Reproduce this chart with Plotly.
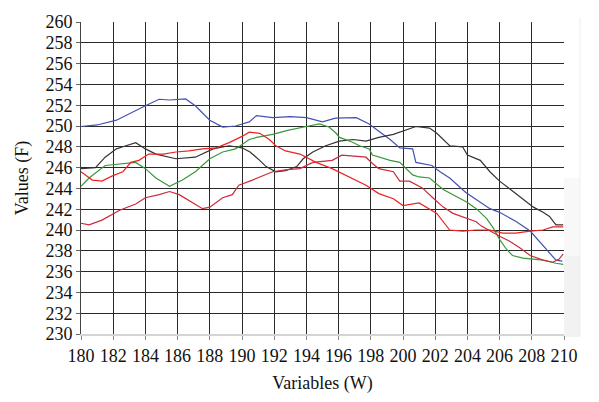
import plotly.graph_objects as go

# ---- data ----
blue_x = [180, 181, 182.2, 183, 184, 184.85, 185.5, 186.5, 187.1, 188, 188.8, 189.6, 190.45, 190.9,
          191.9, 193, 194, 195, 195.8, 197.1, 197.9, 198.5, 199.2, 199.8, 200.6, 200.8, 201.8, 202.3,
          202.9, 203.9, 205.4, 206, 207.05, 207.9, 208.7, 209.5, 209.9]
blue_y = [249.95, 250.1, 250.56, 251.2, 251.95, 252.57, 252.5, 252.6, 251.95, 250.56, 249.9, 250.0, 250.4,
          251.0, 250.8, 250.9, 250.8, 250.4, 250.75, 250.8, 250.2, 249.5, 248.7, 247.9, 247.8, 246.5,
          246.2, 245.6, 245.0, 243.6, 242.05, 241.7, 240.8, 239.9, 238.5, 237.1, 237.0]

black_x = [180, 180.9, 181.5, 182.2, 182.6, 183.4, 184, 184.65, 185.9, 187.1, 188.2, 189.2, 190.0, 190.5,
           191.1, 191.5, 192.1, 192.7, 193.4, 193.8, 194.4, 195.2, 196.05, 196.9, 197.7, 198.5, 199.4,
           200.2, 200.8, 201.65, 202.1, 202.9, 203.7, 204.0, 204.8, 205.4, 206.0, 206.8, 207.45, 208.1,
           208.7, 209.1, 209.5, 209.95]
black_y = [245.9, 246.0, 247.0, 247.8, 248.0, 248.4, 247.8, 247.3, 246.85, 247.0, 247.8, 248.1, 247.9,
           247.5, 246.7, 246.1, 245.6, 245.7, 246.1, 246.85, 247.5, 248.1, 248.55, 248.7, 248.55, 248.9,
           249.2, 249.6, 249.95, 249.8, 249.3, 248.1, 248.0, 247.2, 246.7, 245.6, 244.7, 243.75, 243.0,
           242.2, 241.7, 241.3, 240.5, 240.5]

green_x = [180, 180.5, 181.5, 182.6, 183.4, 184.0, 184.65, 185.5, 186.3, 187.1, 188.0, 188.8, 189.6, 190.45,
           190.9, 191.9, 192.9, 194.0, 194.8, 195.4, 195.85, 196.05, 196.7, 197.3, 197.9, 198.1, 198.5,
           199.2, 199.8, 200.2, 200.6, 201.0, 201.65, 202.5, 203.1, 203.95, 204.55, 205.2, 205.6, 206.0,
           206.4, 206.8, 207.45, 208.1, 208.7, 209.5, 209.95]
green_y = [244.2, 245.0, 246.2, 246.4, 246.5, 245.9, 245.0, 244.2, 244.8, 245.6, 246.85, 247.5, 247.8, 248.7,
           248.9, 249.2, 249.6, 249.95, 250.2, 249.9, 249.3, 248.9, 248.55, 248.1, 247.8, 247.2, 247.0,
           246.7, 246.5, 245.9, 245.3, 245.1, 245.0, 243.9, 243.4, 242.7, 242.05, 241.1, 240.2, 239.1,
           238.2, 237.55, 237.3, 237.2, 237.1, 236.8, 236.7]

redA_x = [180, 180.7, 181.3, 181.95, 182.6, 183.1, 183.6, 184.2, 185.1, 185.9, 186.7, 187.55, 188.4, 189.2,
          190.0, 190.45, 191.1, 191.7, 192.1, 192.7, 193.6, 194.6, 195.6, 196.6, 197.7, 198.5, 199.4,
          200.0, 201.0, 202.1, 202.9, 203.7, 204.55, 205.4, 206.2, 207.0, 207.9, 208.7, 209.3, 209.95]
redA_y = [245.6, 244.8, 244.7, 245.2, 245.6, 246.5, 246.7, 247.3, 247.3, 247.5, 247.6, 247.8, 247.9, 248.4,
          249.0, 249.4, 249.3, 248.7, 248.1, 247.6, 247.3, 246.5, 245.9, 245.1, 244.3, 243.5, 243.0,
          242.35, 242.6, 241.6, 240.0, 239.9, 240.0, 240.0, 239.7, 239.7, 239.9, 240.0, 240.3, 240.3]

redB_x = [180, 180.5, 181.3, 182.4, 183.4, 184.0, 184.85, 185.5, 186.1, 186.9, 187.55, 188.0, 188.8, 189.4,
          189.8, 190.65, 191.9, 192.8, 193.6, 194.4, 195.6, 196.2, 197.1, 197.7, 198.1, 198.5, 199.4,
          199.8, 200.4, 201.2, 201.85, 202.5, 203.1, 203.95, 204.55, 204.85, 205.4, 206.0, 206.6, 207.25,
          207.9, 208.7, 209.3, 209.7, 209.95]
redB_y = [240.65, 240.5, 240.95, 241.9, 242.5, 243.1, 243.4, 243.7, 243.4, 242.7, 242.05, 242.2, 243.1, 243.4,
          244.3, 244.8, 245.6, 245.8, 245.9, 246.5, 246.7, 247.2, 247.1, 247.0, 246.4, 245.9, 245.6,
          244.7, 244.7, 244.05, 243.1, 242.2, 241.6, 241.1, 240.8, 240.4, 239.9, 239.4, 238.95, 238.3,
          237.55, 237.1, 236.9, 237.2, 237.7]

x_ticks = list(range(180, 211, 2))
y_ticks = list(range(230, 261, 2))
x_grid = x_ticks[1:-1]
y_grid = y_ticks[1:]

series = [
    (blue_x, blue_y, "#4451b3"),
    (black_x, black_y, "#333333"),
    (green_x, green_y, "#3a973a"),
    (redB_x, redB_y, "#cc2a3a"),
    (redA_x, redA_y, "#ee2222"),
]

fig = go.Figure()
for xs, ys, c in series:
    fig.add_trace(go.Scatter(x=xs, y=ys, mode="lines", line=dict(color=c, width=1.2),
                             showlegend=False, hoverinfo="skip"))

font = dict(family="Liberation Serif", size=18, color="#111111")

fig.update_layout(
    width=599, height=402,
    margin=dict(l=81, r=35, t=15, b=62),
    paper_bgcolor="white", plot_bgcolor="white",
    font=font,
    xaxis=dict(range=[180, 210], tickmode="array", tickvals=x_ticks,
               ticktext=[str(v) for v in x_ticks],
               showgrid=False,
               minor=dict(tickmode="array", tickvals=x_grid, showgrid=True,
                          gridcolor="#2a2a2a", gridwidth=1.4, ticks=""),
               showline=True, linecolor="#d4d4d4", linewidth=2,
               ticks="outside", ticklen=4, tickcolor="#888888", tickwidth=1,
               zeroline=False, tickfont=font,
               title=dict(text="Variables (W)", font=font, standoff=12)),
    yaxis=dict(range=[230, 260], tickmode="array", tickvals=y_ticks,
               ticktext=[str(v) for v in y_ticks],
               showgrid=False,
               minor=dict(tickmode="array", tickvals=y_grid, showgrid=True,
                          gridcolor="#2a2a2a", gridwidth=1.4, ticks=""),
               showline=True, linecolor="#444444", linewidth=1,
               ticks="outside", ticklen=4, tickcolor="#666666", tickwidth=1,
               zeroline=False, tickfont=font,
               title=dict(text="Values (F)", font=font, standoff=12)),
    shapes=[
        dict(type="rect", xref="paper", yref="paper", x0=1.0, x1=1.033, y0=-0.01, y1=0.25,
             fillcolor="#f2f2f2", line=dict(width=0), layer="below"),
        dict(type="rect", xref="paper", yref="paper", x0=1.0, x1=1.033, y0=0.25, y1=0.5,
             fillcolor="#f8f8f8", line=dict(width=0), layer="below"),
        dict(type="line", xref="paper", yref="paper", x0=1.033, x1=1.033, y0=-0.01, y1=1.015,
             line=dict(color="#eeeeee", width=1)),
    ],
)

fig.write_html("out.html")
